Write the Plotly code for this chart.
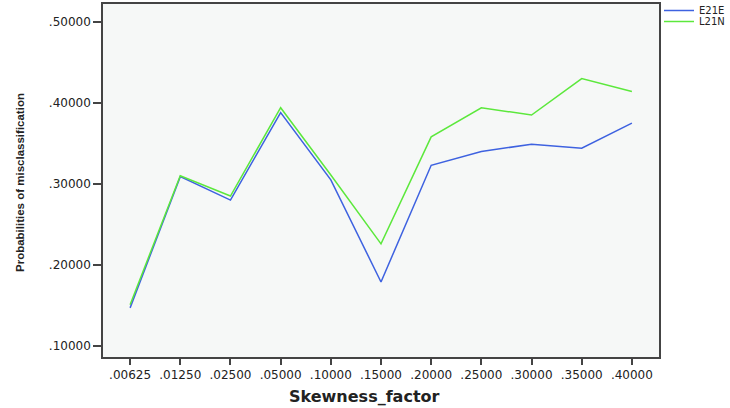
import plotly.graph_objects as go

categories = [".00625", ".01250", ".02500", ".05000", ".10000", ".15000",
              ".20000", ".25000", ".30000", ".35000", ".40000"]
e21e = [0.147, 0.309, 0.280, 0.388, 0.305, 0.179, 0.323, 0.340, 0.349, 0.344, 0.375]
l21n = [0.151, 0.310, 0.285, 0.394, 0.311, 0.226, 0.358, 0.394, 0.385, 0.430, 0.414]
y_tickvals = [0.1, 0.2, 0.3, 0.4, 0.5]
y_ticktext = [".10000", ".20000", ".30000", ".40000", ".50000"]

W, H = 730, 408
L, R, T, B = 103, 71, 4, 51
PH = H - T - B

fig = go.Figure()
fig.add_trace(go.Scatter(x=categories, y=e21e, mode="lines", name="E21E",
                         line=dict(color="#3E62E0", width=1.5), legend="legend"))
fig.add_trace(go.Scatter(x=categories, y=l21n, mode="lines", name="L21N",
                         line=dict(color="#5CE83C", width=1.5), legend="legend2"))

leg_common = dict(xanchor="left", yanchor="top", xref="paper", yref="paper",
                  font=dict(size=10, family="DejaVu Sans", color="#222"),
                  bgcolor="rgba(0,0,0,0)", itemwidth=30, borderwidth=0)

fig.update_layout(
    width=W, height=H,
    margin=dict(l=L, r=R, t=T, b=B, autoexpand=False),
    paper_bgcolor="white",
    plot_bgcolor="#F6F8F7",
    font=dict(family="DejaVu Sans", color="#222"),
    showlegend=True,
    legend=dict(x=1.0, y=1.0 + 8 / PH, **leg_common),
    legend2=dict(x=1.0, y=1.0 - 3 / PH, **leg_common),
    xaxis=dict(
        type="category", range=[-0.54, 10.54], automargin=False,
        showgrid=False, zeroline=False,
        showline=True, mirror=True, linecolor="#444", linewidth=1.5,
        ticks="outside", ticklen=6, tickcolor="#444", tickwidth=1.5,
        tickfont=dict(size=12, family="DejaVu Sans"),
    ),
    yaxis=dict(
        range=[0.0864, 0.522], automargin=False,
        showgrid=False, zeroline=False,
        showline=True, mirror=True, linecolor="#444", linewidth=1.5,
        ticks="outside", ticklen=8, tickcolor="#444", tickwidth=1.5,
        tickvals=y_tickvals, ticktext=y_ticktext,
        tickfont=dict(size=12, family="DejaVu Sans"),
    ),
    annotations=[
        dict(text="<b>Skewness_factor</b>", xref="paper", yref="paper",
             x=(364 - L) / (W - L - R), y=-(396 - (H - B)) / PH,
             xanchor="center", yanchor="middle", showarrow=False,
             font=dict(size=16, family="DejaVu Sans", color="#222")),
        dict(text="<b>Probabilities of misclassification</b>", xref="paper", yref="paper",
             x=-(L - 20) / (W - L - R), y=1 - (183 - T) / PH,
             xanchor="center", yanchor="middle", textangle=-90, showarrow=False,
             font=dict(size=11.5, family="Liberation Sans", color="#222")),
    ],
)

fig.write_html("out.html", config={"displayModeBar": False},
               post_script="document.body.style.margin='0';document.body.style.overflow='hidden';")
